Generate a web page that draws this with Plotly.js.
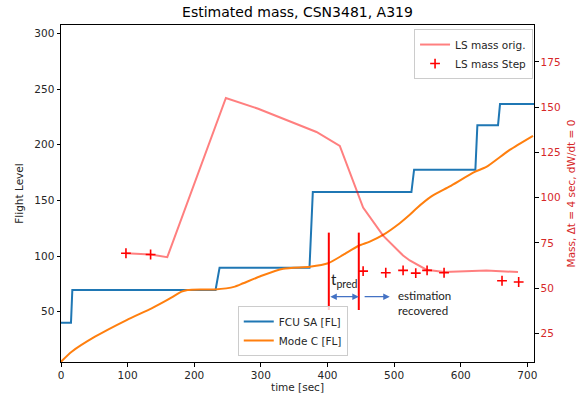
<!DOCTYPE html>
<html>
<head>
<meta charset="utf-8">
<script src="https://cdn.plot.ly/plotly-3.0.1.min.js"></script>
<style>html,body{margin:0;padding:0;background:#fff}#chart{width:586px;height:399px}</style>
</head>
<body>
<div id="chart"></div>
<script>
// ---- data ----
const fcuTime = [0, 15, 17, 232, 238, 373, 378, 526, 530, 622, 625, 656, 659, 710];
const fcuFL   = [40, 40, 69.5, 69.5, 89.5, 89.5, 157.5, 157.5, 177.5, 177.5, 217.5, 217.5, 236.5, 236.5];

const modeCTime = [0, 16, 51, 98.5, 136, 161, 181, 190, 210, 231, 261, 273.5, 300, 333.5, 373.5, 401, 423.5, 446, 463.5, 483.5, 508.5, 523.5, 533.5, 556, 583.5, 621, 638.5, 673.5, 708.5];
const modeCFL   = [5, 14, 27.5, 42.5, 53, 61, 68, 69.5, 70, 70, 72.5, 75.5, 82, 88.6, 90.4, 93.5, 101, 109, 113, 119, 129.5, 137, 142.7, 153.5, 162.5, 175.5, 180, 195.3, 208];

const lsOrigTime = [97.5, 134.5, 159.5, 247.5, 296, 383.5, 418.5, 453.5, 483.5, 513.5, 523.5, 548.5, 575, 610, 638.5, 686];
const lsOrigMass = [69.3, 68.6, 67.1, 155.1, 149.1, 136.3, 128.6, 94.5, 79, 68, 65.3, 60.2, 58.9, 59.5, 59.8, 58.9];

const lsStepTime = [97.5, 134.5, 453.5, 487.5, 513.5, 532.5, 549.5, 575, 662, 687];
const lsStepMass = [69.3, 68.6, 59.4, 58.5, 59.8, 58.3, 59.8, 58.5, 54.1, 53.4];

const xTicks  = [0, 100, 200, 300, 400, 500, 600, 700];
const yTicks  = [50, 100, 150, 200, 250, 300];
const y2Ticks = [25, 50, 75, 100, 125, 150, 175];

const tpredBounds = [402, 447];      // time of the two red markers [sec]
const recoveredArrow = [453.5, 493.5];

// ---- traces ----
const traces = [
  {x: fcuTime, y: fcuFL, type: 'scatter', mode: 'lines', name: 'FCU SA [FL]',
   line: {color: '#1f77b4', width: 2}, legend: 'legend2', xaxis: 'x', yaxis: 'y'},
  {x: modeCTime, y: modeCFL, type: 'scatter', mode: 'lines', name: 'Mode C [FL]',
   line: {color: '#ff7f0e', width: 2, shape: 'spline', smoothing: 0.6}, legend: 'legend2', xaxis: 'x', yaxis: 'y'},
  {x: lsOrigTime, y: lsOrigMass, type: 'scatter', mode: 'lines', name: 'LS mass orig.',
   line: {color: 'rgba(255,0,0,0.5)', width: 2}, legend: 'legend', xaxis: 'x', yaxis: 'y2'},
  {x: lsStepTime, y: lsStepMass, type: 'scatter', mode: 'markers', name: 'LS mass Step',
   marker: {symbol: 'cross-thin-open', size: 7, color: 'red', line: {color: 'red', width: 1.6}},
   legend: 'legend', xaxis: 'x', yaxis: 'y2'}
];

const axisCommon = {
  showline: true, linecolor: '#000', linewidth: 1, ticks: 'outside', ticklen: 3.5,
  tickwidth: 1, tickcolor: '#000', showgrid: false, zeroline: false
};

const layout = {
  width: 586, height: 399,
  margin: {l: 61, r: 52, t: 25, b: 37, pad: 0},
  paper_bgcolor: '#fff', plot_bgcolor: '#fff',
  font: {family: 'DejaVu Sans', size: 10.5, color: '#262626'},
  title: {text: 'Estimated mass, CSN3481, A319', font: {size: 14, color: '#000'},
          x: 0.5, xref: 'paper', xanchor: 'center', y: 0.97, yref: 'container', yanchor: 'middle'},
  showlegend: true,
  xaxis: Object.assign({}, axisCommon, {
    range: [0, 710], tickmode: 'array', tickvals: xTicks, mirror: true,
    title: {text: 'time [sec]', standoff: 3, font: {size: 10.5}}
  }),
  yaxis: Object.assign({}, axisCommon, {
    range: [4.8, 307.5], tickmode: 'array', tickvals: yTicks, mirror: true,
    title: {text: 'Flight Level', standoff: 8, font: {size: 10.5}}
  }),
  yaxis2: Object.assign({}, axisCommon, {
    overlaying: 'y', side: 'right', anchor: 'x',
    range: [9.2, 195.4], tickmode: 'array', tickvals: y2Ticks,
    tickfont: {color: '#d62728'},
    title: {text: 'Mass, \u0394t = 4 sec, dW/dt = 0', standoff: 8, font: {size: 10.5, color: '#d62728'}}
  }),
  legend: {x: 0.998, xanchor: 'right', y: 0.988, yanchor: 'top', bordercolor: '#cccccc',
           borderwidth: 1, bgcolor: 'rgba(255,255,255,0.8)', font: {size: 10.5, color: '#262626'}},
  legend2: {x: 0.49, xanchor: 'center', y: 0.018, yanchor: 'bottom', bordercolor: '#cccccc',
            borderwidth: 1, bgcolor: 'rgba(255,255,255,0.8)', font: {size: 10.5, color: '#262626'}},
  shapes: tpredBounds.map(t => ({type: 'line', xref: 'x', yref: 'y', x0: t, x1: t, y0: 51.5, y1: 121,
                                  line: {color: 'red', width: 2}})),
  annotations: [
    {xref: 'x', yref: 'y', axref: 'x', ayref: 'y', x: tpredBounds[1], y: 63.5, ax: tpredBounds[0], ay: 63.5,
     text: '', showarrow: true, arrowside: 'end+start', arrowhead: 2, startarrowhead: 2,
     arrowsize: 1, startarrowsize: 1, arrowwidth: 1.3, arrowcolor: '#4472c4'},
    {xref: 'x', yref: 'y', axref: 'x', ayref: 'y', x: recoveredArrow[1], y: 63.5, ax: recoveredArrow[0], ay: 63.5,
     text: '', showarrow: true, arrowhead: 2, arrowsize: 1, arrowwidth: 1.3, arrowcolor: '#4472c4'},
    {xref: 'x', yref: 'y', x: 424.5, y: 78.5, text: 't<sub>pred</sub>', showarrow: false,
     font: {family: 'Lato', size: 15, color: '#222'}, xanchor: 'center', yanchor: 'middle'},
    {xref: 'x', yref: 'y', x: 503.5, y: 57.5, text: 'estimation<br>recovered', showarrow: false, align: 'left',
     font: {family: 'Lato', size: 11.5, color: '#222'}, xanchor: 'left', yanchor: 'middle'}
  ]
};

Plotly.newPlot('chart', traces, layout, {displayModeBar: false, staticPlot: true});
</script>
</body>
</html>
